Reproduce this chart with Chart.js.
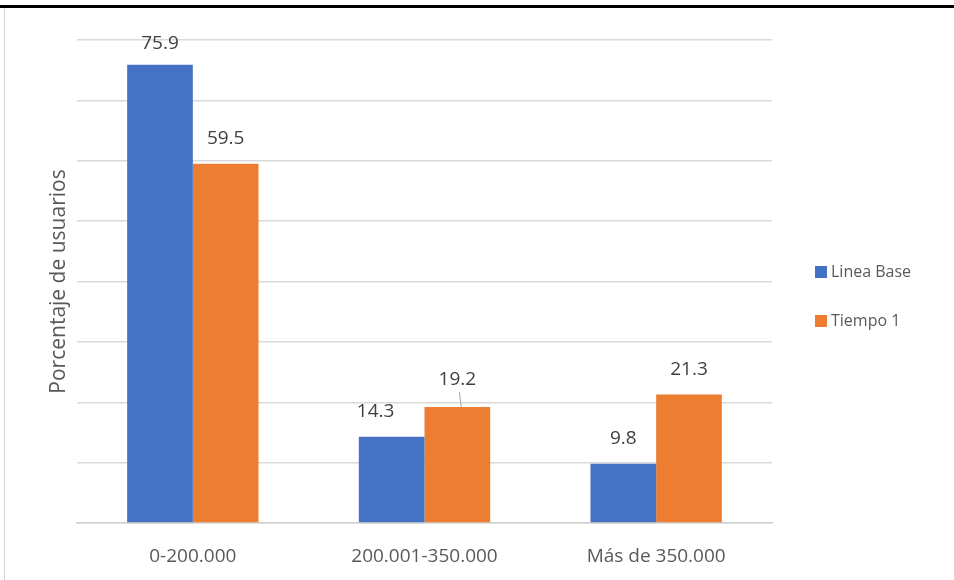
<!DOCTYPE html>
<html lang="es">
<head>
  <meta charset="UTF-8">
  <title>Porcentaje de usuarios</title>
  <script src="https://cdn.jsdelivr.net/npm/chart.js"></script>
  <style>
    body { margin: 0; background: #fff; }
    .wrap { position: relative; width: 954px; height: 580px; }
    .topline { position: absolute; left: 0; top: 5px; width: 954px; height: 3px; background: #000; }
    .leftline { position: absolute; left: 4px; top: 8px; width: 1px; height: 572px; background: #d4d4d4; }
    canvas { position: absolute; left: 0; top: 0; }
  </style>
</head>
<body>
  <div class="wrap">
    <canvas id="chart" width="954" height="580"></canvas>
    <div class="topline"></div>
    <div class="leftline"></div>
  </div>
  <script>
    const categories = ['0-200.000', '200.001-350.000', 'Más de 350.000'];
    const seriesNames = ['Linea Base', 'Tiempo 1'];
    const lineaBase = [75.9, 14.3, 9.8];
    const tiempo1 = [59.5, 19.2, 21.3];
    const colors = ['#4472C4', '#ED7D31'];

    const FONT = "'Open Sans', sans-serif";
    // small nudges for labels that Excel moved
    const nudge = { '0-0': [0, 4], '0-1': [-16, 0], '1-1': [0, -2] };

    const labelsPlugin = {
      id: 'labels',
      afterDatasetsDraw(chart) {
        const ctx = chart.ctx;
        ctx.save();
        ctx.font = '19px ' + FONT;
        ctx.fillStyle = '#404040';
        ctx.textAlign = 'center';
        ctx.textBaseline = 'middle';
        chart.data.datasets.forEach((ds, d) => {
          chart.getDatasetMeta(d).data.forEach((bar, i) => {
            const n = nudge[d + '-' + i] || [0, 0];
            const x = bar.x + n[0];
            const y = bar.y - 25 + n[1];
            ctx.fillText(ds.data[i].toFixed(1), x, y);
            if (d === 1 && i === 1) {
              ctx.strokeStyle = '#a6a6a6';
              ctx.lineWidth = 1;
              ctx.beginPath();
              ctx.moveTo(bar.x + 2, y + 12);
              ctx.lineTo(bar.x + 4, bar.y);
              ctx.stroke();
            }
          });
        });
        // legend
        ctx.textAlign = 'left';
        ctx.font = '16px ' + FONT;
        chart.data.datasets.forEach((ds, d) => {
          const y = 272 + d * 49;
          ctx.fillStyle = ds.backgroundColor;
          ctx.fillRect(815, y - 6, 12, 12);
          ctx.fillStyle = '#595959';
          ctx.fillText(ds.label, 831, y);
        });
        ctx.restore();
      }
    };

    new Chart(document.getElementById('chart'), {
      type: 'bar',
      data: {
        labels: categories,
        datasets: [
          { label: seriesNames[0], data: lineaBase, backgroundColor: colors[0] },
          { label: seriesNames[1], data: tiempo1, backgroundColor: colors[1] }
        ]
      },
      options: {
        responsive: false,
        animation: false,
        devicePixelRatio: 1,
        categoryPercentage: 0.567,
        barPercentage: 1,
        layout: { padding: { left: 46, right: 182, top: 40, bottom: 0 } },
        plugins: { legend: { display: false }, tooltip: { enabled: false } },
        scales: {
          x: {
            grid: { display: false },
            border: { color: '#d0d0d0', width: 1.5 },
            ticks: { color: '#595959', font: { family: FONT, size: 19 }, padding: 14 },
            afterFit(s) { s.height = 57; }
          },
          y: {
            min: 0, max: 80,
            ticks: { display: false, stepSize: 10 },
            grid: { color: '#d9d9d9', lineWidth: 1.5, drawTicks: false },
            border: { display: false },
            title: { display: true, text: 'Porcentaje de usuarios', color: '#595959', font: { family: FONT, size: 21 }, padding: 0 },
            afterFit(s) { s.width = 31; }
          }
        }
      },
      plugins: [labelsPlugin]
    });
  </script>
</body>
</html>
